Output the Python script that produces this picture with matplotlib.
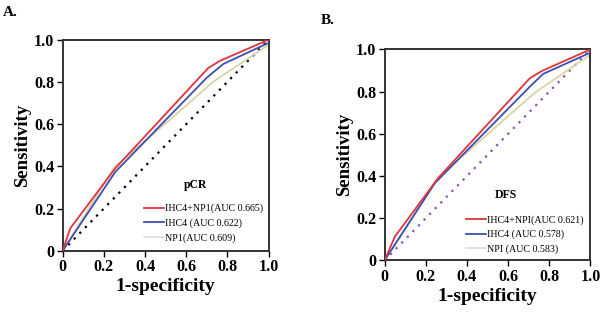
import matplotlib
matplotlib.use("Agg")
import matplotlib.pyplot as plt
from matplotlib.lines import Line2D

plt.rcParams['font.family'] = ['Liberation Serif', 'DejaVu Serif']

# ---- Data ----
# Panel A (pCR)
a_red_x = [0.0, 0.036, 0.255, 0.707, 0.764, 1.0]
a_red_y = [0.0, 0.105, 0.390, 0.866, 0.900, 1.0]
a_blue_x = [0.0, 0.255, 0.700, 0.780, 1.0]
a_blue_y = [0.0, 0.373, 0.820, 0.885, 0.985]
a_npi_x = [0.0, 0.250, 0.520, 0.730, 0.925, 1.0]
a_npi_y = [0.0, 0.395, 0.620, 0.800, 0.927, 0.975]
a_labels = ["IHC4+NP1(AUC 0.665)", "IHC4 (AUC 0.622)", "NP1(AUC 0.609)"]
a_title = "pCR"

# Panel B (DFS)
b_red_x = [0.0, 0.050, 0.260, 0.705, 0.764, 1.0]
b_red_y = [0.0, 0.113, 0.390, 0.863, 0.898, 1.0]
b_blue_x = [0.0, 0.244, 0.700, 0.770, 1.0]
b_blue_y = [0.0, 0.366, 0.818, 0.884, 0.985]
b_npi_x = [0.0, 0.260, 0.520, 0.730, 0.925, 1.0]
b_npi_y = [0.0, 0.392, 0.615, 0.795, 0.925, 0.975]
b_labels = ["IHC4+NPI(AUC 0.621)", "IHC4 (AUC 0.578)", "NPI (AUC 0.583)"]
b_title = "DFS"

ticks = [0, 0.2, 0.4, 0.6, 0.8, 1.0]
tick_labels = ["0", "0.2", "0.4", "0.6", "0.8", "1.0"]

RED = "#e0343c"
BLUE = "#3f4fb0"
NPI = "#d8d4a8"
NPI_LEG = "#dedede"

fig = plt.figure(figsize=(6.0, 3.13), dpi=100)

def panel(rect, rx, ry, bx, by, nx, ny, labels, title, title_pos, leg_top,
          diag_color, letter, letter_pos):
    ax = fig.add_axes(rect)
    ax.plot([0, 1], [0, 1], color=diag_color, linestyle=(0, (1, 2.6)), linewidth=1.6, zorder=1)
    ax.plot(nx, ny, color=NPI, linewidth=1.3, zorder=2)
    ax.plot(bx, by, color=BLUE, linewidth=1.3, zorder=3)
    ax.plot(rx, ry, color=RED, linewidth=1.3, zorder=4)
    ax.set_xlim(0, 1.0)
    ax.set_ylim(0, 1.0)
    ax.set_xticks(ticks)
    ax.set_xticklabels(tick_labels)
    ax.set_yticks(ticks)
    ax.set_yticklabels(tick_labels)
    for s in ax.spines.values():
        s.set_linewidth(1.4)
        s.set_color("#333333")
    ax.tick_params(axis='both', direction='out', length=4, width=1.0, labelsize=11.5, pad=2)
    for lab in ax.get_xticklabels() + ax.get_yticklabels():
        lab.set_fontweight('bold')
    ax.set_xlabel("1-specificity", fontsize=14, fontweight='bold', labelpad=2)
    ax.set_ylabel("Sensitivity", fontsize=13.5, fontweight='bold', labelpad=2)
    handles = [Line2D([0], [0], color=RED, lw=1.3),
               Line2D([0], [0], color=BLUE, lw=1.3),
               Line2D([0], [0], color=NPI_LEG, lw=1.3)]
    ax.legend(handles, labels, loc='upper left', bbox_to_anchor=(0.35, leg_top),
              frameon=False, fontsize=7.2, handlelength=2.0, handletextpad=0.15,
              labelspacing=0.5, borderpad=0.4)
    ax.text(title_pos[0], title_pos[1], title, transform=ax.transAxes,
            fontsize=8.5, fontweight='bold', ha='center', va='center')
    fig.text(letter_pos[0], letter_pos[1], letter, fontsize=11, fontweight='bold',
             ha='left', va='top')
    return ax

panel([0.1045, 0.199, 0.343, 0.674], a_red_x, a_red_y, a_blue_x, a_blue_y,
      a_npi_x, a_npi_y, a_labels, a_title, (0.647, 0.31), 0.265,
      "black", "A.", (0.005, 0.98))
panel([0.641, 0.168, 0.343, 0.674], b_red_x, b_red_y, b_blue_x, b_blue_y,
      b_npi_x, b_npi_y, b_labels, b_title, (0.589, 0.31), 0.257,
      "#9050a8", "B.", (0.535, 0.955))

fig.savefig("out.png", dpi=100)
